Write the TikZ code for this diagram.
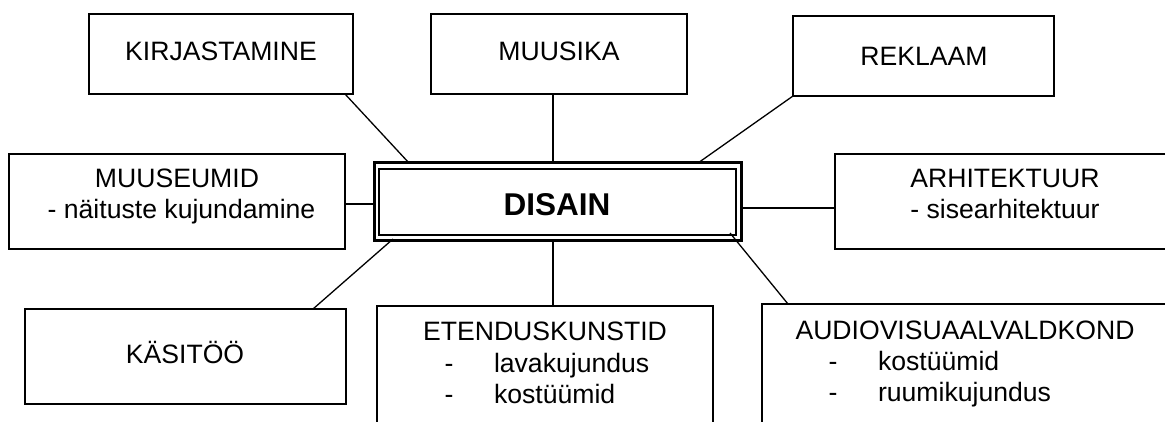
\documentclass[tikz,border=0pt]{standalone}
\usepackage{fontspec}
\setmainfont{Liberation Sans}
\usetikzlibrary{calc}
\newcommand\fsreg{\fontsize{26.6}{30}\selectfont}
\newcommand\fsbig{\fontsize{31.5}{36}\selectfont\bfseries}
\tikzset{
  box/.style={draw=black, line width=1.3, inner sep=0, outer sep=0},
  openbox/.style={inner sep=0, outer sep=0},
  lbl/.style={inner sep=0, outer sep=0, anchor=base, font=\fsreg},
  lbll/.style={inner sep=0, outer sep=0, anchor=base west, font=\fsreg},
  conn/.style={draw=black, line width=1.3},
}
\begin{document}
\begin{tikzpicture}[x=1pt, y=-1pt]
\useasboundingbox (0,0) rectangle (1168,422);
\fill[white] (0,0) rectangle (1168,422);

% boxes
\node[box, minimum width=264, minimum height=80] (kir) at (221,54) {};
\node[box, minimum width=256, minimum height=80] (mus) at (559,54) {};
\node[box, minimum width=261, minimum height=80] (rek) at (923.5,56) {};
\node[box, minimum width=336, minimum height=95] (mue) at (177,201.5) {};
\node[box, minimum width=321, minimum height=95] (kas) at (185.5,356.5) {};
% boxes cut by the picture's edge
\node[openbox, minimum width=333, minimum height=95] (arh) at (1001.5,201.5) {};
\draw[box] ($(arh.north east)+(-3,0)$) -- (arh.north west) -- (arh.south west) -- ($(arh.south east)+(-3,0)$);
\node[openbox, minimum width=336, minimum height=116] (ete) at (545,364) {};
\draw[box] (ete.south west) -- (ete.north west) -- (ete.north east) -- (ete.south east);
\node[openbox, minimum width=406, minimum height=118] (aud) at (965,363) {};
\draw[box] (aud.south west) -- (aud.north west) -- ($(aud.north east)+(-3,0)$);

% central box (double border)
\node[draw=black, line width=3, inner sep=0, outer sep=0, minimum width=367, minimum height=78] (dis) at (557.5,202) {};
\node[draw=black, line width=1.8, inner sep=0, outer sep=0, minimum width=357, minimum height=66] (disin) at (557.5,202) {};

% connectors
\draw[conn] ($(kir.south east)+(-8,0)$) -- ($(dis.north west)+(35,0)$);
\draw[conn] ($(mus.south)+(-6,0)$) -- ($(dis.north)+(-4.5,0)$);
\draw[conn] (rek.south west) -- ($(dis.north east)+(-43,0)$);
\draw[conn] ($(mue.east)+(0,2.5)$) -- ($(dis.west)+(0,2)$);
\draw[conn] ($(dis.east)+(0,6)$) -- ($(arh.west)+(0,6.5)$);
\draw[conn] ($(kas.north east)+(-33,0)$) -- ($(dis.south west)+(19,-2)$);
\draw[conn] ($(dis.south)+(-4.5,0)$) -- ($(ete.north)+(8,0)$);
\draw[conn] ($(dis.south east)+(-11,-8)$) -- ($(aud.north west)+(26,0)$);

% texts
\node[lbl] (kirt) at (221,61) {KIRJASTAMINE};
\node[lbl] (must) at (559,61) {MUUSIKA};
\node[lbl] (rekt) at (924,66) {REKLAAM};
\node[lbl] (muet) at (177,188) {MUUSEUMID};
\node[lbl] (muet2) at (181.5,219) {- näituste kujundamine};
\node[lbl] (arht) at (1005,188) {ARHITEKTUUR};
\node[lbl] (arht2) at (1005,219) {- sisearhitektuur};
\node[lbl] (kast) at (185,363) {KÄSITÖÖ};
\node[inner sep=0, outer sep=0, anchor=base, font=\fsbig] (dist) at (557,216) {DISAIN};

\node[lbl] (etet) at (545,340) {ETENDUSKUNSTID};
\node[lbl] (eted1) at (449,372) {-};
\node[lbll] (etet1) at (494,372) {lavakujundus};
\node[lbl] (eted2) at (449,403) {-};
\node[lbll] (etet2) at (494,403) {kostüümid};

\node[lbl] (audt) at (965,339) {AUDIOVISUAALVALDKOND};
\node[lbl] (audd1) at (833,370) {-};
\node[lbll] (audt1) at (878,370) {kostüümid};
\node[lbl] (audd2) at (833,401) {-};
\node[lbll] (audt2) at (878,401) {ruumikujundus};
\end{tikzpicture}
\end{document}
